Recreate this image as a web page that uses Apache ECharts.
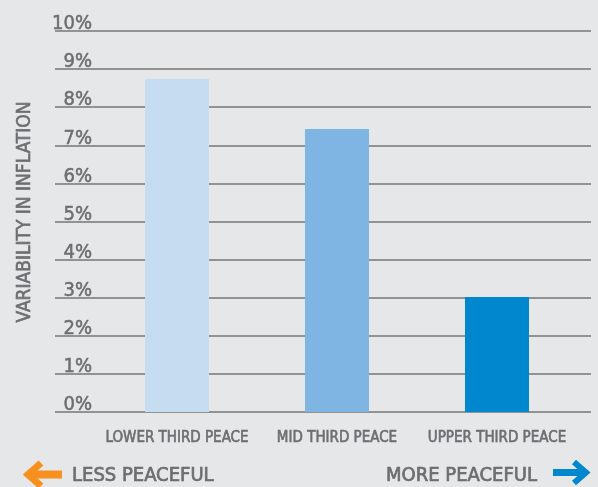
<!DOCTYPE html>
<html><head><meta charset="utf-8">
<script src="https://cdn.jsdelivr.net/npm/echarts@6/dist/echarts.min.js"></script>
<style>html,body{margin:0;padding:0;background:#E6E7E9;}#c{width:598px;height:487px;}</style>
</head><body><div id="c"></div>
<script>
var categories = ['LOWER THIRD PEACE', 'MID THIRD PEACE', 'UPPER THIRD PEACE'];
var values = [8.74, 7.43, 3.02];
var barColors = ['#C6DCF1', '#7FB5E3', '#0087CE'];
var yTicks = [0, 1, 2, 3, 4, 5, 6, 7, 8, 9, 10];
var yTitle = 'VARIABILITY IN INFLATION';
var leftNote = 'LESS PEACEFUL';
var rightNote = 'MORE PEACEFUL';

var FONT = "'Liberation Sans Narrow', 'DejaVu Sans Condensed', 'Arial Narrow', sans-serif";
var GREY = '#6D6E70';
var chart = echarts.init(document.getElementById('c'), null, {renderer: 'canvas'});
chart.setOption({
  backgroundColor: '#E6E7E9',
  animation: false,
  grid: [
    {left: 55, right: 7, top: 31, bottom: 75},
    {left: 97, right: 21, top: 31, bottom: 75}
  ],
  xAxis: [
    {gridIndex: 0, type: 'value', min: 0, max: 1, show: false},
    {gridIndex: 1, type: 'category', data: categories,
     axisLine: {show: false}, axisTick: {show: false},
     axisLabel: {interval: 0, color: GREY, fontFamily: FONT, fontSize: 15, margin: 19,
       textBorderColor: GREY, textBorderWidth: 0.6}}
  ],
  yAxis: [
    {gridIndex: 0, type: 'value', min: yTicks[0], max: yTicks[yTicks.length - 1], interval: 1,
     axisLine: {show: false}, axisTick: {show: false},
     splitLine: {lineStyle: {color: '#929292', width: 2}},
     axisLabel: {inside: true, align: 'right', verticalAlign: 'bottom', margin: 37,
       color: GREY, fontFamily: FONT, fontSize: 20, lineHeight: 14,
       textBorderColor: GREY, textBorderWidth: 0.5,
       formatter: function (v) { return v + '%'; }}},
    {gridIndex: 1, type: 'value', min: yTicks[0], max: yTicks[yTicks.length - 1], interval: 1, show: false}
  ],
  series: [{
    type: 'bar', xAxisIndex: 1, yAxisIndex: 1, barWidth: 64,
    data: values.map(function (v, i) { return {value: v, itemStyle: {color: barColors[i]}}; })
  }],
  graphic: [
    {type: 'text', x: 25, y: 212, rotation: Math.PI / 2,
     style: {text: yTitle, fill: GREY, font: '19px ' + FONT, align: 'center', verticalAlign: 'middle',
       stroke: GREY, lineWidth: 0.6}},
    {type: 'polyline', shape: {points: [[41, 463], [28, 474.5], [41, 486]]},
     style: {stroke: '#F7901E', lineWidth: 7, fill: null}},
    {type: 'line', shape: {x1: 29, y1: 474.5, x2: 62, y2: 474.5},
     style: {stroke: '#F7901E', lineWidth: 8}},
    {type: 'text', x: 72, y: 476,
     style: {text: leftNote, fill: GREY, font: '20px ' + FONT, align: 'left', verticalAlign: 'middle',
       stroke: GREY, lineWidth: 0.7}},
    {type: 'text', x: 537, y: 476,
     style: {text: rightNote, fill: GREY, font: '20px ' + FONT, align: 'right', verticalAlign: 'middle',
       stroke: GREY, lineWidth: 0.7}},
    {type: 'polyline', shape: {points: [[574, 462], [586, 472.5], [574, 483]]},
     style: {stroke: '#0087CE', lineWidth: 6, fill: null}},
    {type: 'line', shape: {x1: 553, y1: 472.5, x2: 585, y2: 472.5},
     style: {stroke: '#0087CE', lineWidth: 7}}
  ]
});
</script></body></html>
